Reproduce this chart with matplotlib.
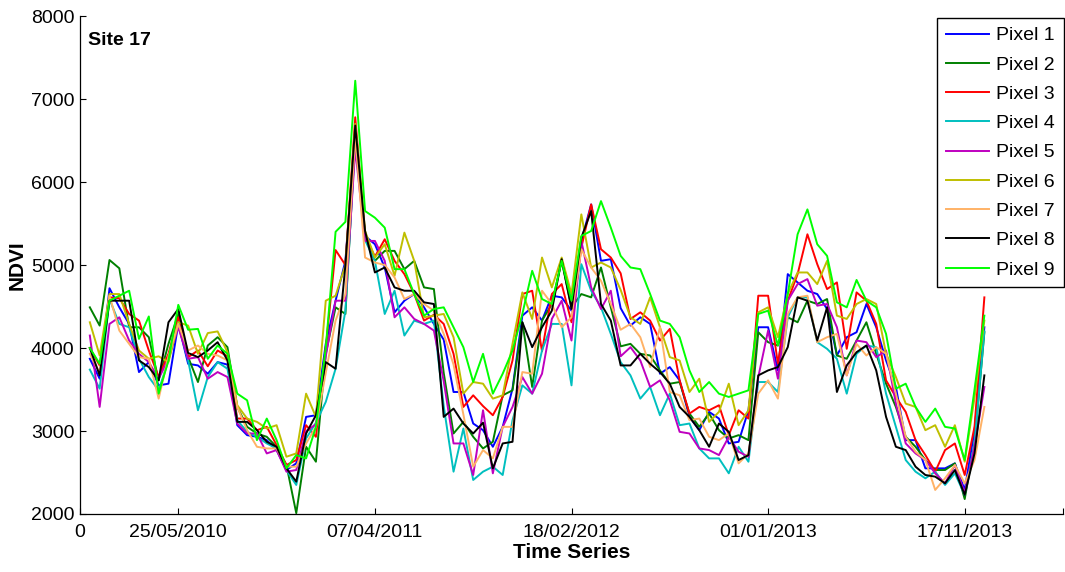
import numpy as np
import matplotlib
matplotlib.use('Agg')
import matplotlib.pyplot as plt

# NDVI time series (16-day composites) for the nine pixels of site 17
pixel1 = [3870, 3630, 4720, 4490, 4290, 3710, 3830, 3550, 3570, 4290, 3810, 3790, 3690,
          3830, 3800, 3070, 2950, 2930, 2890, 2770, 2530, 2610, 3170, 3190, 4050, 4570, 5050,
          6600,
          5350, 5250, 4970, 4430, 4570, 4650, 4490, 4290,
          4100, 3470, 3470, 3090, 3010,
          2810, 3050, 3510, 4390, 4490, 4330, 4630, 4610, 4450, 5290, 5730, 5050, 5070, 4480,
          4270, 4370, 4290, 3690, 3770, 3610, 3170, 3010, 3230, 3150, 2850, 2870, 3250,
          4250, 4250, 3730, 4890, 4790, 4690, 4650, 4470, 3910, 4130, 4190, 4530, 4250, 3850,
          3530, 2890, 2890, 2550, 2550, 2550, 2610, 2290, 3010, 4250]
pixel2 = [4490, 4270, 5060, 4960, 4250, 4250, 4130, 3610, 4050, 4410, 3890, 3590, 4030,
          4130, 4010, 3290, 3050, 2970, 2930, 2810, 2590, 2010, 2810, 2630, 3930, 4490, 4410,
          6550,
          5370, 5050, 5170, 5170, 4950, 5050, 4730, 4710,
          3700, 2970, 3110, 2930, 2790,
          2870, 3430, 3490, 4310, 3530, 4330, 4530, 5050, 4490, 4650, 4610, 4970, 4490, 4020,
          4050, 3930, 3910, 3730, 3570, 3590, 3210, 3050, 3210, 3010, 2910, 2950, 2890,
          4190, 4070, 4030, 4370, 4310, 4570, 4530, 4590, 3910, 3870, 4090, 4310, 3930, 3570,
          3290, 2930, 2810, 2650, 2530, 2530, 2610, 2180, 2850, 4190]
pixel3 = [4000, 3790, 4610, 4600, 4410, 4330, 3970, 3650, 3930, 4370, 3890, 3970, 3780,
          3970, 3900, 3150, 3150, 3010, 3050, 2830, 2590, 2650, 3070, 2930, 4000, 5180, 5000,
          6780,
          5350, 5100, 5310, 5050, 4890, 4650, 4330, 4400,
          4290, 3930, 3290, 3430, 3300,
          3190, 3410, 3850, 4650, 4690, 3960, 4650, 4770, 4310, 5210, 5730, 5190, 5090, 4900,
          4350, 4430, 4330, 4090, 4230, 3610, 3210, 3290, 3250, 3310, 2950, 3250, 3150,
          4630, 4630, 3810, 4570, 4890, 5370, 5010, 4710, 4790, 3990, 4670, 4570, 4290, 3610,
          3410, 3230, 2890, 2710, 2510, 2770, 2850, 2470, 3050, 4610]
pixel4 = [3740, 3510, 4590, 4290, 4250, 3870, 3650, 3490, 3850, 4310, 3850, 3250, 3650,
          3830, 3750, 3130, 2990, 2930, 2850, 2790, 2530, 2350, 2910, 3100, 3350, 3750, 4450,
          6500,
          5300, 5050, 4410, 4690, 4150, 4330, 4290, 4330,
          3300, 2510, 3030, 2410, 2510,
          2570, 2470, 3130, 3550, 3450, 3970, 4290, 4290, 3550, 5010, 4690, 4490, 4170, 3830,
          3670, 3390, 3530, 3190, 3450, 3070, 3090, 2790, 2670, 2670, 2490, 2810, 2630,
          3590, 3590, 3470, 4370, 4610, 4610, 4070, 3990, 3870, 3450, 3930, 4030, 4010, 3450,
          3050, 2650, 2510, 2430, 2510, 2350, 2490, 2230, 2850, 4200]
pixel5 = [4150, 3290, 4290, 4370, 4090, 3930, 3830, 3630, 3870, 4250, 3870, 3890, 3630,
          3710, 3650, 3090, 2970, 2970, 2730, 2770, 2510, 2530, 3000, 3080, 3900, 4570, 4570,
          6400,
          5290, 5290, 5050, 4370, 4490, 4350, 4290, 4210,
          3600, 2850, 2850, 2470, 3250,
          2490, 3050, 3290, 3650, 3450, 3690, 4350, 4570, 4090, 5290, 4730, 4470, 4690, 3900,
          4010, 3850, 3530, 3610, 3370, 2990, 2970, 2790, 2770, 2710, 2930, 2750, 2690,
          3650, 4210, 3630, 4570, 4770, 4830, 4510, 4530, 4250, 3670, 4090, 4070, 3890, 3970,
          3330, 2850, 2730, 2650, 2490, 2370, 2590, 2250, 2810, 3530]
pixel6 = [4310, 3910, 4650, 4650, 4290, 3970, 3870, 3900, 3830, 4310, 4270, 3930, 4180,
          4200, 3950, 3310, 3150, 3110, 3030, 3070, 2690, 2730, 3450, 3170, 4570, 4630, 5000,
          6700,
          5410, 5090, 5250, 4870, 5390, 5050, 4370, 4390,
          4410, 4130, 3450, 3590, 3570,
          3390, 3430, 4050, 4670, 4350, 5090, 4730, 5090, 4650, 5610, 4970, 5030, 4970, 4700,
          4370, 4290, 4610, 4250, 3890, 3850, 3470, 3630, 3110, 3230, 3570, 3070, 3250,
          4430, 4490, 4130, 4650, 4910, 4910, 4770, 5050, 4390, 4350, 4530, 4590, 4530, 3930,
          3650, 3330, 3290, 3010, 3070, 2810, 3070, 2630, 3400, 4330]
pixel7 = [3930, 3700, 4630, 4210, 4050, 3890, 3870, 3390, 3900, 4290, 3970, 4030, 3930,
          3910, 3850, 3290, 3010, 2810, 2790, 2790, 2570, 2570, 2850, 3050, 3700, 4330, 4650,
          6550,
          5090, 5030, 5000, 4850, 4590, 4650, 4530, 4450,
          4170, 3800, 3200, 2570, 2770,
          2670, 3050, 3050, 3710, 3690, 4690, 4530, 4250, 4370, 5190, 4970, 4810, 4530, 4220,
          4290, 4130, 3770, 4250, 3470, 3430, 3130, 3150, 2930, 2890, 2970, 2610, 2730,
          3450, 3610, 3390, 4410, 4610, 4630, 4070, 4130, 4170, 3670, 4050, 3910, 4010, 3930,
          3450, 2930, 2750, 2650, 2290, 2430, 2590, 2370, 2650, 3290]
pixel8 = [4000, 3670, 4570, 4570, 4570, 3850, 3770, 3610, 4310, 4470, 3940, 3890, 3970,
          4070, 3850, 3110, 3110, 3010, 2870, 2810, 2550, 2390, 2970, 3190, 3830, 3750, 5000,
          6680,
          5410, 4910, 4970, 4730, 4690, 4690, 4550, 4530,
          3170, 3270, 3090, 2970, 3100,
          2550, 2850, 2870, 4310, 4010, 4250, 4450, 5070, 4470, 5330, 5650, 4530, 4330, 3790,
          3790, 3930, 3810, 3710, 3570, 3290, 3170, 3010, 2810, 3090, 2990, 2650, 2710,
          3670, 3730, 3770, 4010, 4610, 4570, 4090, 4490, 3470, 3790, 3950, 4030, 3730, 3170,
          2810, 2770, 2570, 2470, 2450, 2370, 2530, 2230, 2730, 3670]
pixel9 = [4000, 3810, 4570, 4630, 4690, 4110, 4380, 3450, 3850, 4520, 4220, 4230, 3870,
          4030, 3930, 3450, 3370, 2890, 3150, 2890, 2550, 2710, 2670, 3050, 4000, 5400, 5520,
          7220,
          5650, 5570, 5450, 4950, 4950, 4650, 4390, 4470,
          4490, 4250, 4010, 3590, 3930,
          3450, 3690, 3970, 4410, 4930, 4590, 4530, 5050, 4570, 5350, 5410, 5770, 5450, 5110,
          4970, 4950, 4650, 4330, 4290, 4130, 3730, 3470, 3590, 3450, 3410, 3450, 3490,
          4410, 4450, 4030, 4650, 5370, 5670, 5250, 5110, 4550, 4490, 4820, 4570, 4490, 4170,
          3510, 3570, 3290, 3110, 3270, 3050, 3030, 2650, 3500, 4390]

series = [pixel1, pixel2, pixel3, pixel4, pixel5, pixel6, pixel7, pixel8, pixel9]
labels = ['Pixel 1', 'Pixel 2', 'Pixel 3', 'Pixel 4', 'Pixel 5',
          'Pixel 6', 'Pixel 7', 'Pixel 8', 'Pixel 9']
colors = ['#0000ff', '#008000', '#ff0000', '#00bfbf', '#bf00bf',
          '#bfbf00', '#ffb266', '#000000', '#00ff00']

tick_pos = [0, 10, 30, 50, 70, 90, 100]
tick_labels = ['0', '25/05/2010', '07/04/2011', '18/02/2012', '01/01/2013', '17/11/2013', '']

plt.rcParams['font.family'] = ['Liberation Sans', 'DejaVu Sans']

fig = plt.figure(figsize=(10.65, 5.72), dpi=100)
ax = fig.add_axes([80/1065, 1 - 514/572, 983/1065, 498/572])

t = np.arange(1, len(pixel1) + 1)
for vals, lab, col in zip(series, labels, colors):
    ax.plot(t, vals, color=col, linewidth=1.4, label=lab)

ax.set_xlim(0, 100)
ax.set_ylim(2000, 8000)
ax.set_xticks(tick_pos)
ax.set_xticklabels(tick_labels)
ax.set_yticks(range(2000, 8001, 1000))
ax.tick_params(direction='in', length=4, width=0.8, labelsize=14,
               top=False, right=False)
ax.tick_params(axis='x', pad=7)
ax.tick_params(axis='y', pad=4)
for side in ['top', 'right']:
    ax.spines[side].set_visible(False)
for side in ['left', 'bottom']:
    ax.spines[side].set_linewidth(0.9)

ax.set_xlabel('Time Series', fontsize=15, fontweight='bold', labelpad=2)
ax.set_ylabel('NDVI', fontsize=15, fontweight='bold', labelpad=3)
ax.text(0.008, 0.950, 'Site 17', transform=ax.transAxes, fontsize=14,
        fontweight='bold', va='center', ha='left')

leg = ax.legend(loc='upper right', bbox_to_anchor=(1064/1065, 1 - 18/572),
                bbox_transform=fig.transFigure, borderaxespad=0, fontsize=14,
                handlelength=2.2, handletextpad=0.4, labelspacing=0.6,
                borderpad=0.45, fancybox=False, framealpha=1)
leg.get_frame().set_edgecolor('black')
leg.get_frame().set_linewidth(1.0)

fig.savefig('out.png', dpi=100)
